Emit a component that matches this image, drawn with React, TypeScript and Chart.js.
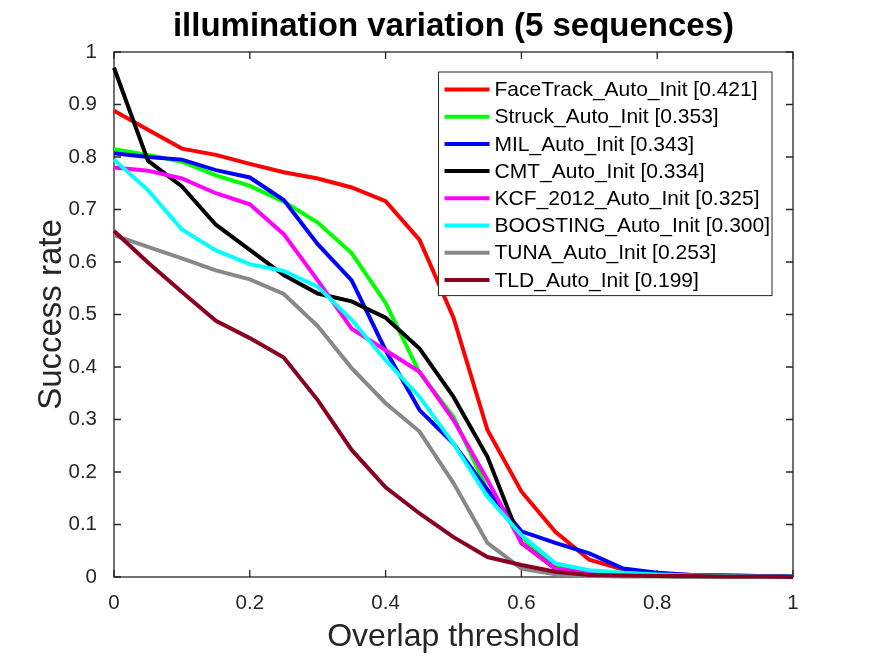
import { useEffect, useRef } from "react"
import { Chart, registerables, Plugin } from "chart.js"

Chart.register(...registerables)

const thresholds = [0, 0.05, 0.1, 0.15, 0.2, 0.25, 0.3, 0.35, 0.4, 0.45, 0.5, 0.55, 0.6, 0.65, 0.7, 0.75, 0.8, 0.85, 0.9, 0.95, 1]

const faceTrack = [0.888, 0.852, 0.816, 0.804, 0.787, 0.771, 0.759, 0.742, 0.716, 0.642, 0.494, 0.28, 0.163, 0.086, 0.033, 0.014, 0.007, 0.004, 0.003, 0.002, 0]
const struck = [0.815, 0.804, 0.791, 0.765, 0.745, 0.715, 0.675, 0.617, 0.522, 0.389, 0.305, 0.166, 0.077, 0.019, 0.01, 0.007, 0.005, 0.003, 0.002, 0.002, 0.001]
const mil = [0.807, 0.8, 0.795, 0.775, 0.761, 0.718, 0.634, 0.565, 0.432, 0.318, 0.254, 0.166, 0.087, 0.065, 0.045, 0.016, 0.008, 0.004, 0.003, 0.002, 0.001]
const cmt = [0.97, 0.793, 0.744, 0.671, 0.623, 0.575, 0.54, 0.525, 0.494, 0.435, 0.343, 0.229, 0.065, 0.016, 0.005, 0.003, 0.002, 0.001, 0.001, 0.001, 0]
const kcf = [0.78, 0.774, 0.759, 0.731, 0.71, 0.653, 0.565, 0.473, 0.432, 0.391, 0.299, 0.185, 0.065, 0.016, 0.007, 0.004, 0.003, 0.002, 0.001, 0.001, 0]
const boosting = [0.795, 0.737, 0.662, 0.622, 0.596, 0.583, 0.553, 0.49, 0.413, 0.343, 0.254, 0.153, 0.08, 0.026, 0.013, 0.008, 0.005, 0.003, 0.002, 0.001, 0]
const tuna = [0.651, 0.629, 0.607, 0.584, 0.567, 0.539, 0.478, 0.398, 0.331, 0.277, 0.179, 0.065, 0.016, 0.005, 0.002, 0.001, 0.001, 0, 0, 0, 0]
const tld = [0.659, 0.599, 0.543, 0.488, 0.455, 0.418, 0.337, 0.242, 0.171, 0.121, 0.076, 0.038, 0.023, 0.01, 0.004, 0.003, 0.002, 0.002, 0.001, 0.001, 0]

const seriesNames = [
  "FaceTrack_Auto_Init [0.421]",
  "Struck_Auto_Init [0.353]",
  "MIL_Auto_Init [0.343]",
  "CMT_Auto_Init [0.334]",
  "KCF_2012_Auto_Init [0.325]",
  "BOOSTING_Auto_Init [0.300]",
  "TUNA_Auto_Init [0.253]",
  "TLD_Auto_Init [0.199]",
]
const seriesValues = [faceTrack, struck, mil, cmt, kcf, boosting, tuna, tld]
const seriesColors = ["#ff0000", "#00ff00", "#0000ff", "#000000", "#ff00ff", "#00ffff", "#888888", "#880022"]

const FONT = "'Liberation Sans', Arimo, Arial, sans-serif"
const AXIS = "#262626"

// MATLAB-like box: frame on all four sides with inward ticks
const boxPlugin: Plugin<"line"> = {
  id: "matlabBox",
  beforeDatasetsDraw(chart) {
    const { ctx, chartArea: a } = chart
    const xs = chart.scales.x
    const ys = chart.scales.y
    const len = 7
    ctx.save()
    ctx.strokeStyle = AXIS
    ctx.lineWidth = 1.3
    ctx.strokeRect(a.left, a.top, a.right - a.left, a.bottom - a.top)
    ctx.beginPath()
    xs.ticks.forEach((t) => {
      const px = xs.getPixelForValue(t.value)
      ctx.moveTo(px, a.bottom)
      ctx.lineTo(px, a.bottom - len)
      ctx.moveTo(px, a.top)
      ctx.lineTo(px, a.top + len)
    })
    ys.ticks.forEach((t) => {
      const py = ys.getPixelForValue(t.value)
      ctx.moveTo(a.left, py)
      ctx.lineTo(a.left + len, py)
      ctx.moveTo(a.right, py)
      ctx.lineTo(a.right - len, py)
    })
    ctx.stroke()
    ctx.restore()
  },
  afterDraw(chart) {
    const { ctx, chartArea: a } = chart
    ctx.save()
    // title
    ctx.fillStyle = "#000000"
    ctx.font = `bold 33px ${FONT}`
    ctx.textAlign = "center"
    ctx.textBaseline = "alphabetic"
    ctx.fillText("illumination variation (5 sequences)", (a.left + a.right) / 2, 36)

    // legend inside the axes, top right
    ctx.font = `21px ${FONT}`
    const widths = seriesNames.map((n) => ctx.measureText(n).width)
    const maxW = Math.max(...widths)
    const boxW = 6 + 45 + 5 + maxW + 2
    const rowH = 27.2
    const boxH = rowH * seriesNames.length + 6
    const bx = a.right - 21 - boxW
    const by = a.top + 20
    ctx.fillStyle = "#ffffff"
    ctx.fillRect(bx, by, boxW, boxH)
    ctx.strokeStyle = AXIS
    ctx.lineWidth = 1
    ctx.strokeRect(bx, by, boxW, boxH)
    ctx.textAlign = "left"
    ctx.textBaseline = "middle"
    seriesNames.forEach((name, i) => {
      const cy = by + 17.5 + i * rowH
      ctx.strokeStyle = seriesColors[i]
      ctx.lineWidth = 4
      ctx.beginPath()
      ctx.moveTo(bx + 6, cy)
      ctx.lineTo(bx + 51, cy)
      ctx.stroke()
      ctx.fillStyle = "#000000"
      ctx.fillText(name, bx + 56, cy + 1)
    })
    ctx.restore()
  },
}

export default function App() {
  const chartRef = useRef<HTMLCanvasElement>(null)
  const chartInstance = useRef<Chart | null>(null)

  useEffect(() => {
    document.body.style.margin = "0"
    if (!chartRef.current) return
    if (chartInstance.current) {
      chartInstance.current.destroy()
    }

    const fmt = (v: number | string) => String(Math.round(Number(v) * 10) / 10)

    chartInstance.current = new Chart(chartRef.current, {
      type: "line",
      data: {
        datasets: seriesNames.map((name, i) => ({
          label: name,
          data: thresholds.map((t, j) => ({ x: t, y: seriesValues[i][j] })),
          borderColor: seriesColors[i],
          backgroundColor: seriesColors[i],
          borderWidth: 4,
          pointRadius: 0,
          tension: 0,
          clip: false as const,
          order: seriesNames.length - i,
        })),
      },
      options: {
        responsive: false,
        animation: false,
        events: [],
        layout: {
          padding: { top: 52, right: 82, left: 0, bottom: 0 },
        },
        plugins: {
          legend: { display: false },
          tooltip: { enabled: false },
          title: { display: false },
        },
        scales: {
          x: {
            type: "linear",
            min: 0,
            max: 1,
            afterFit: (s) => {
              s.height = 79
            },
            grid: { display: false },
            border: { display: false },
            ticks: {
              stepSize: 0.2,
              color: AXIS,
              padding: 6,
              font: { family: FONT, size: 20.5 },
              callback: (v) => fmt(v),
            },
            title: {
              display: true,
              text: "Overlap threshold",
              color: AXIS,
              font: { family: FONT, size: 32 },
              padding: { top: 0, bottom: 0 },
            },
          },
          y: {
            type: "linear",
            min: 0,
            max: 1,
            afterFit: (s) => {
              s.width = 114
            },
            grid: { display: false },
            border: { display: false },
            ticks: {
              stepSize: 0.1,
              color: AXIS,
              padding: 9,
              font: { family: FONT, size: 20.5 },
              callback: (v) => fmt(v),
            },
            title: {
              display: true,
              text: "Success rate",
              color: AXIS,
              font: { family: FONT, size: 33 },
              padding: { top: 32, bottom: 0 },
            },
          },
        },
      },
      plugins: [boxPlugin],
    })

    return () => {
      if (chartInstance.current) {
        chartInstance.current.destroy()
        chartInstance.current = null
      }
    }
  }, [])

  return (
    <div style={{ width: 875, height: 656, background: "#ffffff" }}>
      <canvas ref={chartRef} width={875} height={656}></canvas>
    </div>
  )
}
